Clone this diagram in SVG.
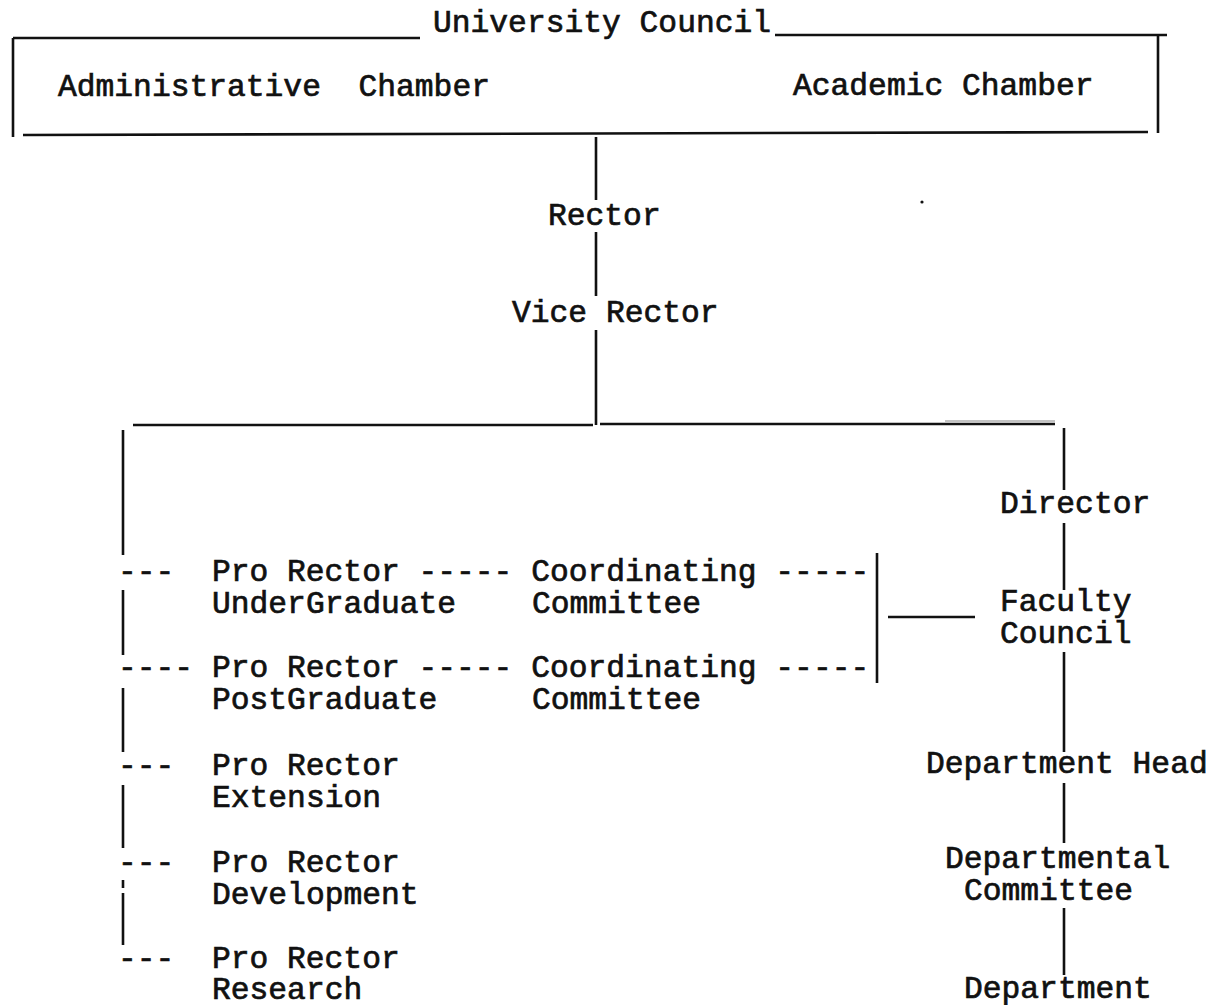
<svg xmlns="http://www.w3.org/2000/svg" width="1212" height="1005" viewBox="0 0 1212 1005" xml:space="preserve">
<style>
text{font-family:"Liberation Mono","Courier New",monospace;font-size:31.3px;fill:#111;stroke:#111;stroke-width:0.7px;white-space:pre;}
.ln{stroke:#111;stroke-width:2.6;fill:none;stroke-linecap:butt;}
</style>
<rect width="1212" height="1005" fill="#fff"/>
<g id="connectors">
<path class="ln" d="M13 38 H420 M775 35 H1167 M13 38 V137 M23 135 L1148 132 M1158 35 V133"/>
<path class="ln" d="M596 137 V200 M596 232 V296 M596 330 V425"/>
<path class="ln" d="M133 425 H593 M600 424 H1055"/>
<path d="M945 421 H1055" stroke="#888" stroke-width="1.2" fill="none"/>
<path class="ln" d="M123 430 V555 M123 590 V655 M123 688 V752 M123 785 V848 M123 880 V888 M123 893 V945"/>
<path class="ln" d="M1064 428 V490 M1064 523 V590 M1064 652 V752 M1064 783 V843 M1064 908 V975"/>
<path class="ln" d="M877 553 V683 M888 617 H975"/>
<circle cx="922" cy="202" r="1.6" fill="#111"/>
</g>
<g id="university-council"><text x="433" y="32">University Council</text></g>
<g id="administrative-chamber"><text x="58" y="96">Administrative  Chamber</text></g>
<g id="academic-chamber"><text x="793" y="95">Academic Chamber</text></g>
<g id="rector"><text x="548" y="225">Rector</text></g>
<g id="vice-rector"><text x="512" y="322">Vice Rector</text></g>
<g id="director"><text x="1000" y="513">Director</text></g>
<g id="faculty-council"><text x="1000" y="611">Faculty</text><text x="1000" y="643">Council</text></g>
<g id="department-head"><text x="926" y="773">Department Head</text></g>
<g id="departmental-committee"><text x="945" y="868">Departmental</text><text x="964" y="900">Committee</text></g>
<g id="department"><text x="964" y="998">Department</text></g>
<g id="pro-rector-undergraduate"><text x="118" y="581">---  Pro Rector ----- Coordinating -----</text><text x="212" y="613">UnderGraduate</text><text x="532" y="613">Committee</text></g>
<g id="pro-rector-postgraduate"><text x="118" y="677">---- Pro Rector ----- Coordinating -----</text><text x="212" y="709">PostGraduate</text><text x="532" y="709">Committee</text></g>
<g id="pro-rector-extension"><text x="118" y="775">---  Pro Rector</text><text x="212" y="807">Extension</text></g>
<g id="pro-rector-development"><text x="118" y="872">---  Pro Rector</text><text x="212" y="904">Development</text></g>
<g id="pro-rector-research"><text x="118" y="968">---  Pro Rector</text><text x="212" y="999">Research</text></g>
</svg>
